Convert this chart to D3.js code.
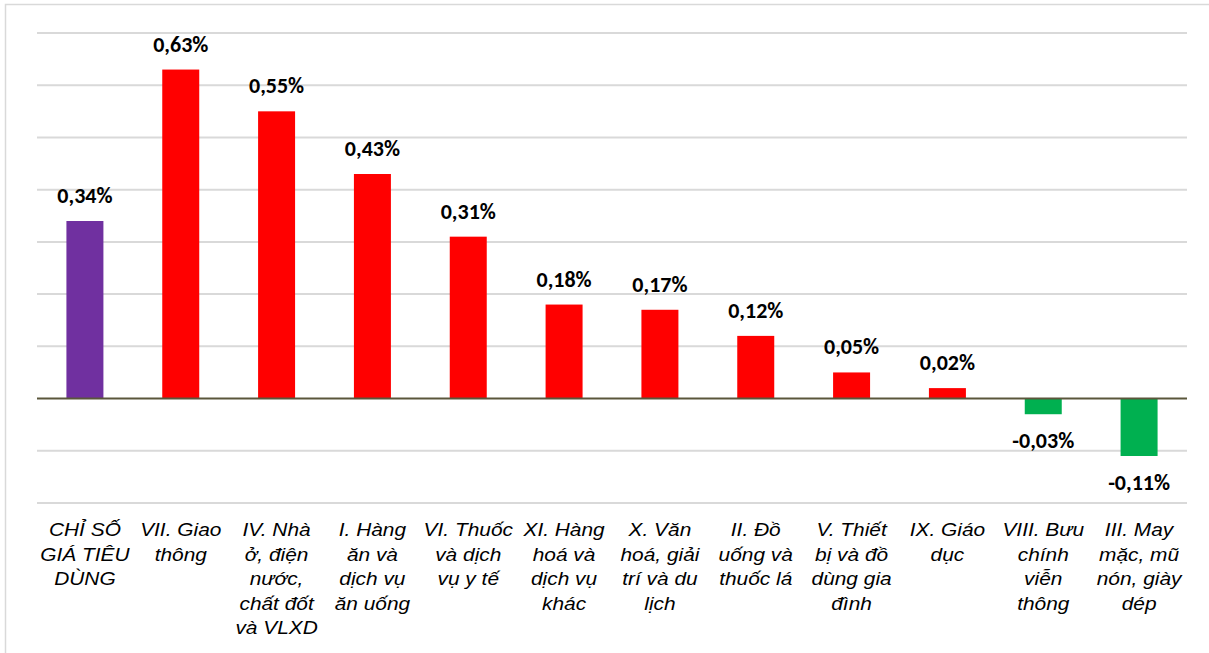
<!DOCTYPE html>
<html>
<head>
<meta charset="utf-8">
<script src="https://cdn.jsdelivr.net/npm/d3@7"></script>
<style>
  html, body { margin: 0; padding: 0; background: #fff; }
  svg { display: block; }
</style>
</head>
<body>
<div id="chart"></div>
<script>
// category labels, one entry per bar (lines split as in the original)
var categories = [
    "CHỈ SỐ\nGIÁ TIÊU\nDÙNG",
    "VII. Giao\nthông",
    "IV. Nhà\nở, điện\nnước,\nchất đốt\nvà VLXD",
    "I. Hàng\năn và\ndịch vụ\năn uống",
    "VI. Thuốc\nvà dịch\nvụ y tế",
    "XI. Hàng\nhoá và\ndịch vụ\nkhác",
    "X. Văn\nhoá, giải\ntrí và du\nlịch",
    "II. Đồ\nuống và\nthuốc lá",
    "V. Thiết\nbị và đồ\ndùng gia\nđình",
    "IX. Giáo\ndục",
    "VIII. Bưu\nchính\nviễn\nthông",
    "III. May\nmặc, mũ\nnón, giày\ndép"
];
// change in % compared with previous month
var values = [0.34, 0.63, 0.55, 0.43, 0.31, 0.18, 0.17, 0.12, 0.05, 0.02, -0.03, -0.11];
// gridline levels
var gridTicks = [-0.2, -0.1, 0, 0.1, 0.2, 0.3, 0.4, 0.5, 0.6, 0.7];

var W = 1209, H = 653;
var colorTotal = "#7030A0", colorUp = "#FF0000", colorDown = "#00B050";

var vn = d3.formatLocale({decimal: ",", thousands: ".", grouping: [3], currency: ["", ""], minus: "-"});
var fmt = vn.format(".2f");

var svg = d3.select("#chart").append("svg").attr("width", W).attr("height", H);

// chart area border (right and bottom edges fall outside the picture)
svg.append("rect")
    .attr("x", 5.5).attr("y", 4.5)
    .attr("width", 1300).attr("height", 700)
    .attr("fill", "#fff")
    .attr("stroke", "#D9D9D9").attr("stroke-width", 1.5);

var x = d3.scaleBand()
    .domain(categories)
    .range([37, 1187])
    .paddingInner(0.614)
    .paddingOuter(0.307);

var y = d3.scaleLinear()
    .domain([-0.2, 0.7])
    .range([503, 33]);

// horizontal gridlines
svg.append("g").selectAll("line")
    .data(gridTicks.filter(function(t) { return t !== 0; }))
    .enter().append("line")
    .attr("x1", 37).attr("x2", 1187)
    .attr("y1", function(d) { return y(d); })
    .attr("y2", function(d) { return y(d); })
    .attr("stroke", "#D9D9D9").attr("stroke-width", 2);

// bars
svg.append("g").selectAll("rect")
    .data(values)
    .enter().append("rect")
    .attr("x", function(d, i) { return x(categories[i]); })
    .attr("width", x.bandwidth())
    .attr("y", function(d) { return y(Math.max(0, d)); })
    .attr("height", function(d) { return Math.abs(y(d) - y(0)); })
    .attr("fill", function(d, i) {
        if (i === 0) return colorTotal;
        return d >= 0 ? colorUp : colorDown;
    });

// zero axis
svg.append("line")
    .attr("x1", 37).attr("x2", 1187)
    .attr("y1", y(0)).attr("y2", y(0))
    .attr("stroke", "#5a563b").attr("stroke-width", 2);

// value labels
svg.append("g").selectAll("text")
    .data(values)
    .enter().append("text")
    .attr("x", function(d, i) { return x(categories[i]) + x.bandwidth() / 2; })
    .attr("y", function(d) { return d >= 0 ? y(d) - 18 : y(d) + 34; })
    .attr("text-anchor", "middle")
    .attr("font-family", "Carlito, Lato, 'Open Sans', sans-serif")
    .attr("font-weight", "bold")
    .attr("font-size", "22px")
    .attr("fill", "#000")
    .text(function(d) { return fmt(d) + "%"; });

// category labels
var cat = svg.append("g").selectAll("g")
    .data(categories)
    .enter().append("g")
    .attr("transform", function(d) {
        return "translate(" + (x(d) + x.bandwidth() / 2) + ",536) scale(1.16,1)";
    });

cat.append("text")
    .attr("text-anchor", "middle")
    .attr("font-family", "Arial, 'Liberation Sans', sans-serif")
    .attr("font-style", "italic")
    .attr("font-size", "18px")
    .attr("fill", "#000")
    .selectAll("tspan")
    .data(function(d) { return d.split("\n"); })
    .enter().append("tspan")
    .attr("x", 0)
    .attr("y", function(d, i) { return i * 24.6; })
    .text(function(d) { return d; });
</script>
</body>
</html>
